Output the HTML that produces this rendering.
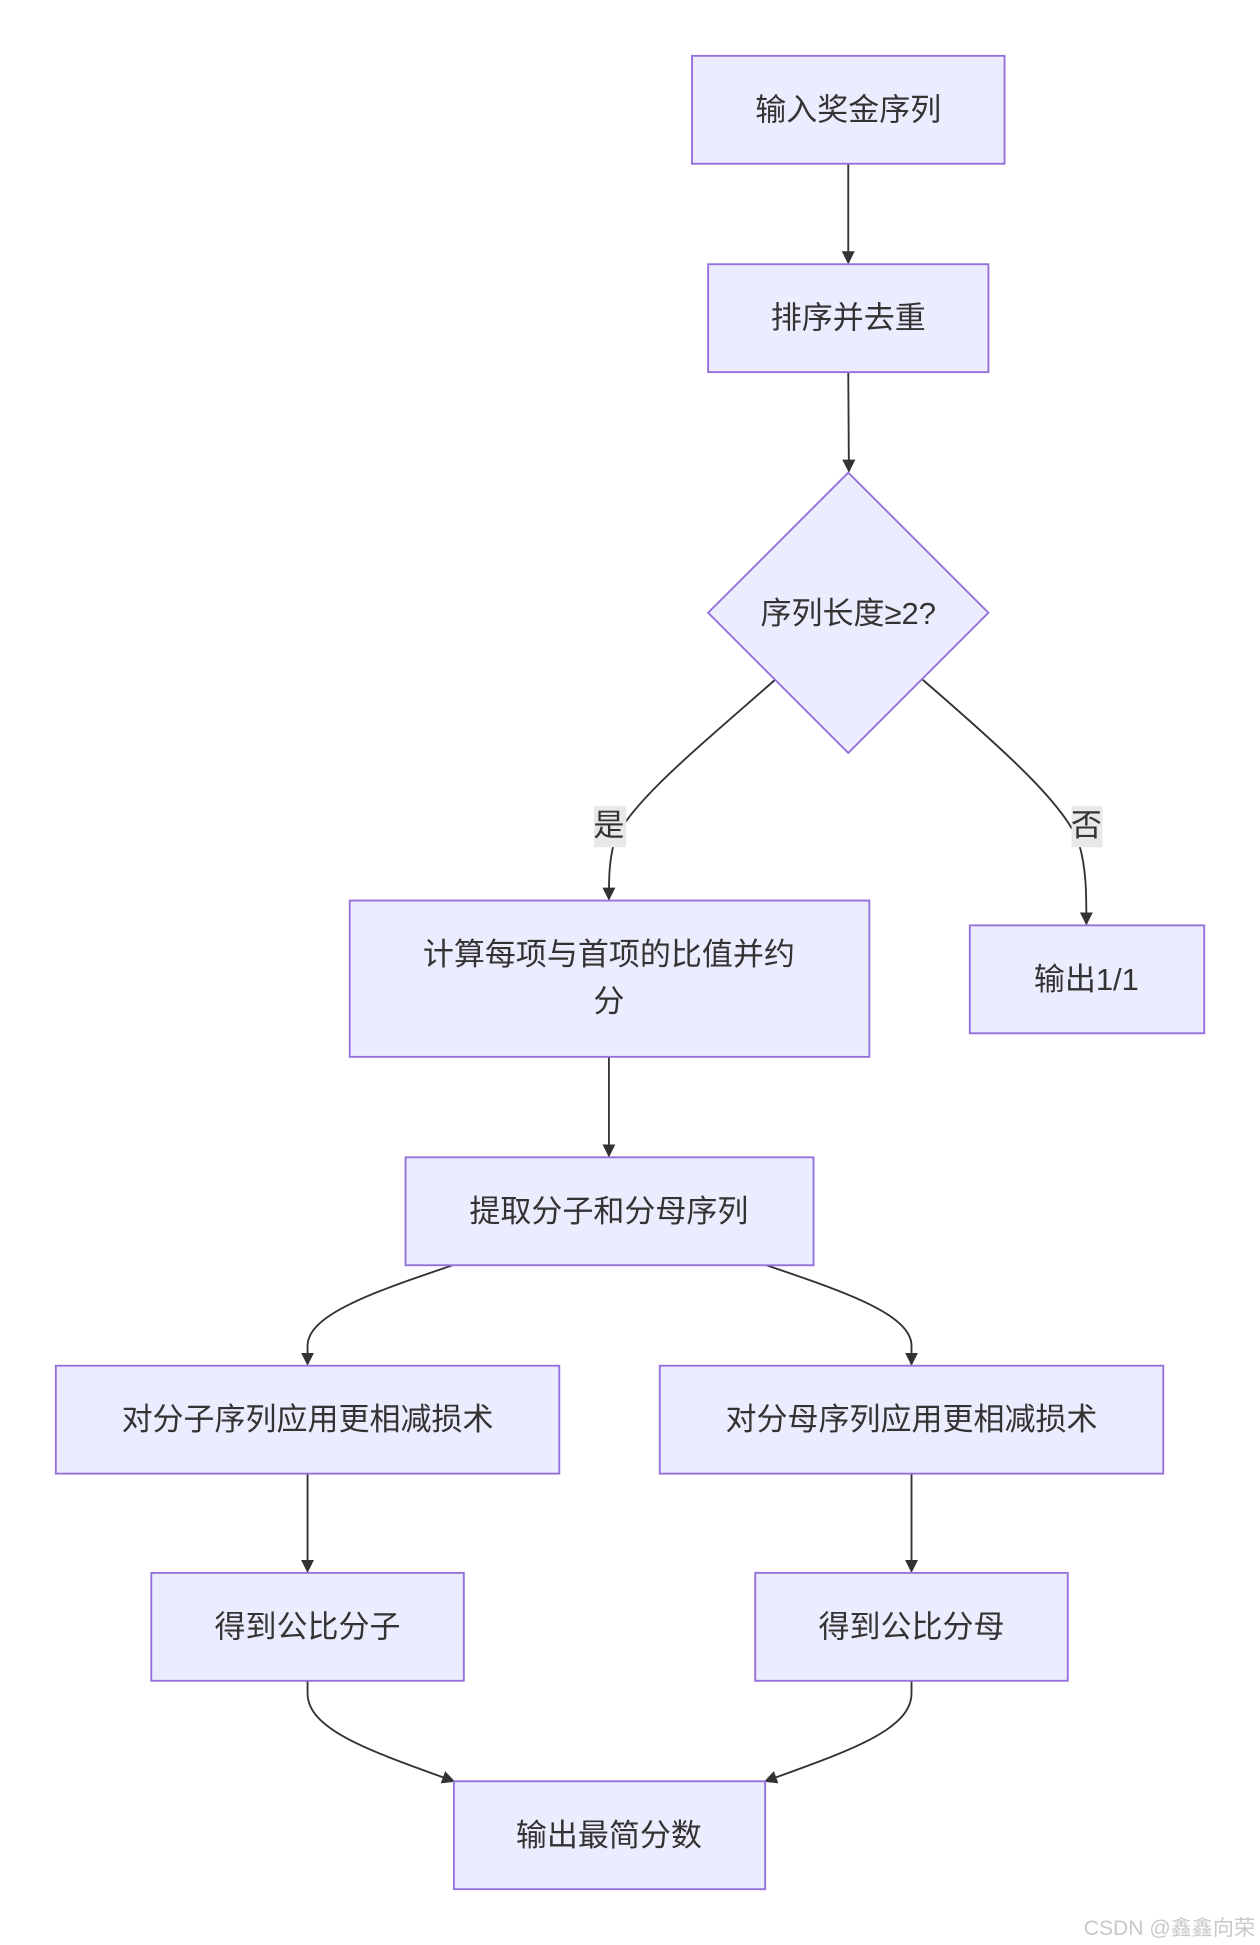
<!DOCTYPE html>
<html><head><meta charset="utf-8"><style>html,body{margin:0;padding:0;background:#fff;width:1260px;height:1945px;overflow:hidden}svg{display:block}</style></head><body>
<svg width="1260" height="1945" viewBox="0 0 1016 1568" preserveAspectRatio="none" xmlns="http://www.w3.org/2000/svg" font-family="Liberation Sans, Noto Sans CJK SC, sans-serif">
<defs><marker id="a" viewBox="0 0 10 10" refX="9" refY="5" markerWidth="7" markerHeight="7" orient="auto"><path d="M0,0L10,5L0,10z" fill="#333"/></marker></defs>
<g fill="none" stroke="#333" stroke-width="1.5" marker-end="url(#a)">
<path d="M684,132L684,212"/>
<path d="M684,300L684.5,380"/>
<path d="M625,548C560,605 505,650 495,680C491,695 491,710 491,725"/>
<path d="M744,548C810,605 860,650 870,680C876,700 876,720 876,745"/>
<path d="M491,852L491,932"/>
<path d="M365,1020C300,1042 248,1060 248,1085L248,1100"/>
<path d="M618,1020C683,1042 735,1060 735,1085L735,1100"/>
<path d="M248,1188L248,1267"/>
<path d="M735,1188L735,1267"/>
<path d="M248,1355L248,1365C248,1395 300,1412 366,1436"/>
<path d="M735,1355L735,1365C735,1395 683,1412 617,1436"/>
</g>
<g fill="#ECECFF" stroke="#9370DB" stroke-width="1.5">
<rect x="558" y="45" width="252" height="87"/>
<rect x="571" y="213" width="226" height="87"/>
<path d="M684,381L797,494L684,607L571,494z"/>
<rect x="282" y="726" width="419" height="126"/>
<rect x="782" y="746" width="189" height="87"/>
<rect x="327" y="933" width="329" height="87"/>
<rect x="45" y="1101" width="406" height="87"/>
<rect x="532" y="1101" width="406" height="87"/>
<rect x="122" y="1268" width="252" height="87"/>
<rect x="609" y="1268" width="252" height="87"/>
<rect x="366" y="1436" width="251" height="87"/>
</g>
<rect x="479" y="650" width="26" height="33" fill="#e8e8e8"/>
<rect x="864" y="650" width="25" height="33" fill="#e8e8e8"/>
<g fill="#333" font-size="25" text-anchor="middle">
<text x="684" y="97">输入奖金序列</text>
<text x="684" y="265">排序并去重</text>
<text x="684" y="503">序列长度≥2?</text>
<text x="491" y="674">是</text>
<text x="876" y="674">否</text>
<text x="491" y="778">计算每项与首项的比值并约</text>
<text x="491" y="816">分</text>
<text x="876" y="798">输出1/1</text>
<text x="491" y="985">提取分子和分母序列</text>
<text x="248" y="1153">对分子序列应用更相减损术</text>
<text x="735" y="1153">对分母序列应用更相减损术</text>
<text x="248" y="1320">得到公比分子</text>
<text x="735" y="1320">得到公比分母</text>
<text x="491" y="1488">输出最简分数</text>
</g>
<text x="1012" y="1560" font-size="17" fill="#c8c8c8" text-anchor="end">CSDN @鑫鑫向荣</text>
</svg>
</body></html>
